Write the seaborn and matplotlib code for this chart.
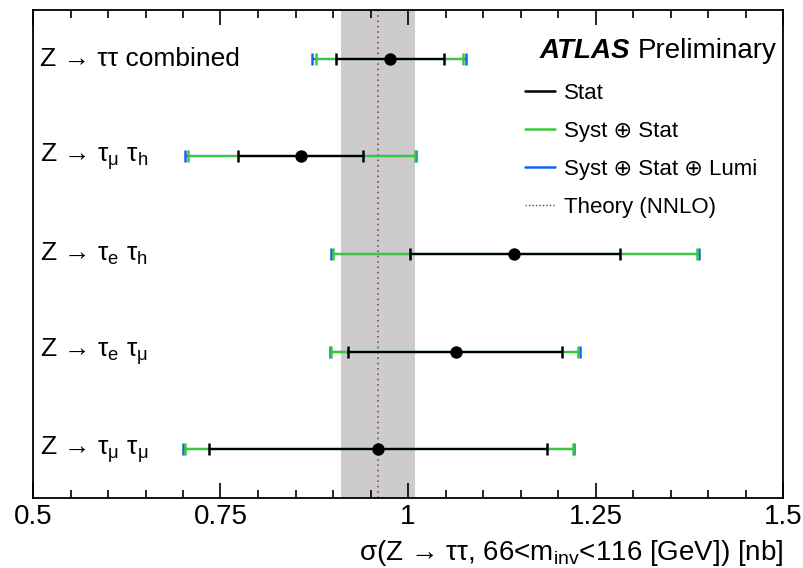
import numpy as np
import pandas as pd
import matplotlib
matplotlib.use("Agg")
import matplotlib.pyplot as plt
from matplotlib.lines import Line2D
import seaborn as sns

# ---- data ----
channels = [r"Z → ττ combined",
            r"Z → τ$_{\mathregular{μ}}$ τ$_{\mathregular{h}}$",
            r"Z → τ$_{\mathregular{e}}$ τ$_{\mathregular{h}}$",
            r"Z → τ$_{\mathregular{e}}$ τ$_{\mathregular{μ}}$",
            r"Z → τ$_{\mathregular{μ}}$ τ$_{\mathregular{μ}}$"]
central = [0.976, 0.857, 1.142, 1.064, 0.960]
stat_lo = [0.904, 0.773, 1.003, 0.920, 0.735]
stat_hi = [1.048, 0.940, 1.282, 1.205, 1.186]
syst_lo = [0.877, 0.707, 0.900, 0.897, 0.703]
syst_hi = [1.073, 1.009, 1.385, 1.227, 1.220]
lumi_lo = [0.872, 0.703, 0.897, 0.896, 0.700]
lumi_hi = [1.078, 1.011, 1.388, 1.229, 1.221]
theory = 0.960
theory_lo = 0.911
theory_hi = 1.010
xticks = [0.5, 0.75, 1.0, 1.25, 1.5]
xticklabels = ["0.5", "0.75", "1", "1.25", "1.5"]

df = pd.DataFrame({"channel": channels, "xsec": central,
                   "pos": np.arange(len(channels))})

sns.set_theme(style="ticks")
plt.rcParams["font.family"] = ["Liberation Sans", "DejaVu Sans"]
plt.rcParams["mathtext.fontset"] = "custom"
plt.rcParams["mathtext.rm"] = "Liberation Sans"
plt.rcParams["text.color"] = "black"
plt.rcParams["axes.labelcolor"] = "black"
plt.rcParams["xtick.color"] = "black"
plt.rcParams["xtick.labelcolor"] = "black"

fig = plt.figure(figsize=(8.04, 5.68), dpi=100)
ax = fig.add_axes([33/804, 1-498/568, 750/804, 488/568])

GREEN = "#3cc83c"
BLUE = "#1464f0"
RED = "#a02828"

ax.axvspan(theory_lo, theory_hi, color="#cccccc", lw=0, zorder=0)
ax.axvline(theory, color=RED, lw=1.1, ls=(0, (1, 2.5)), zorder=1)

pos = df["pos"].to_numpy()
c = np.array(central)
for lo, hi, col, z in [(lumi_lo, lumi_hi, BLUE, 2), (syst_lo, syst_hi, GREEN, 3),
                       (stat_lo, stat_hi, "black", 4)]:
    lo = np.array(lo); hi = np.array(hi)
    ax.errorbar(c, pos, xerr=[c - lo, hi - c], fmt="none", ecolor=col,
                elinewidth=1.6, capsize=4.3, capthick=1.8, zorder=z)

sns.scatterplot(data=df, x="xsec", y="pos", color="black", s=80,
                edgecolor="black", linewidth=0, zorder=5, ax=ax, legend=False)

for p, lab in zip(pos, channels):
    ax.text(0.51, p, lab, fontsize=19, va="center", ha="left", color="black")

ax.set_xlim(0.5, 1.5)
ax.set_ylim(4.5, -0.5)
ax.set_yticks([])
ax.set_ylabel("")
ax.set_xticks(xticks)
ax.set_xticklabels(xticklabels, fontsize=20)
ax.set_xticks(np.arange(0.55, 1.5, 0.05), minor=True)
ax.tick_params(axis="x", which="both", direction="in", top=True, bottom=True,
               width=1.2, color="black", pad=4)
ax.tick_params(axis="x", which="major", length=11)
ax.tick_params(axis="x", which="minor", length=5.5)
for s in ax.spines.values():
    s.set_visible(True)
    s.set_linewidth(1.3)
    s.set_color("black")

ax.set_xlabel(r"σ(Z → ττ, 66<m$_{\mathregular{inv}}$<116 [GeV]) [nb]",
              fontsize=20, loc="right", labelpad=6)

ax.text(0.676, 0.902, "ATLAS", transform=ax.transAxes, fontsize=20,
        fontweight="bold", fontstyle="italic", ha="left", va="baseline")
ax.text(0.806, 0.902, "Preliminary", transform=ax.transAxes, fontsize=20,
        ha="left", va="baseline")

handles = [Line2D([], [], color="black", lw=1.8),
           Line2D([], [], color=GREEN, lw=1.8),
           Line2D([], [], color=BLUE, lw=1.8),
           Line2D([], [], color=RED, lw=1.0, ls=(0, (1, 1.5)))]
labels = ["Stat", "Syst ⊕ Stat", "Syst ⊕ Stat ⊕ Lumi", "Theory (NNLO)"]
leg = ax.legend(handles, labels, loc="upper left", bbox_to_anchor=(0.656, 0.850),
                frameon=False, fontsize=16, handlelength=1.36, handletextpad=0.38,
                labelspacing=0.76, borderpad=0, borderaxespad=0)
for t in leg.get_texts():
    t.set_color("black")

fig.savefig("out.png", dpi=100)
